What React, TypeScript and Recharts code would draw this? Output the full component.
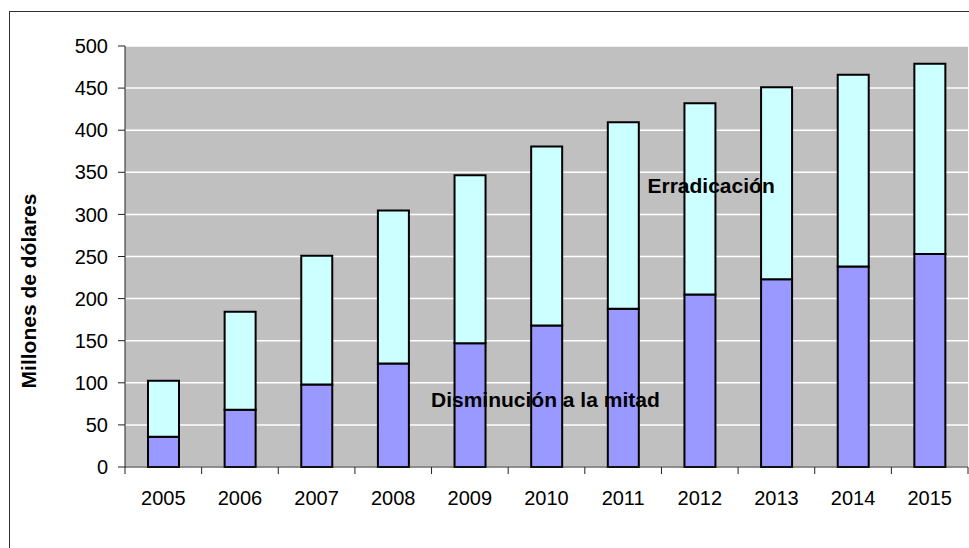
import React from 'react';
import { BarChart, Bar, XAxis, YAxis, CartesianGrid } from 'recharts';

const years = ['2005', '2006', '2007', '2008', '2009', '2010', '2011', '2012', '2013', '2014', '2015'];
const halfValues = [36, 68, 98, 123, 147, 168, 188, 205, 223, 238, 253];
const eradValues = [66.5, 116.5, 153, 181.5, 199.5, 212.5, 221.5, 227, 228, 228, 226];
const yTicks = [0, 50, 100, 150, 200, 250, 300, 350, 400, 450, 500];

const data = years.map((year, i) => ({ year, half: halfValues[i], erad: eradValues[i] }));

const FONT = '"Liberation Sans", Arial, sans-serif';
const TICK_SIZE = 7;
const X_TICK_MARGIN = 17;

const XTick = (props: any) => {
  const { x, y, payload, index, visibleTicksCount } = props;
  const half = payload && typeof payload.offset === 'number' && payload.offset > 0 ? payload.offset : 843 / 22;
  const axisY = y - TICK_SIZE - X_TICK_MARGIN;
  const last = index === visibleTicksCount - 1;
  return (
    <g>
      <line x1={x - half} y1={axisY} x2={x - half} y2={axisY + TICK_SIZE} stroke="#222" />
      {last && <line x1={x + half} y1={axisY} x2={x + half} y2={axisY + TICK_SIZE} stroke="#222" />}
      <text x={x} y={y} dy="0.71em" textAnchor="middle" fill="#000" fontSize={20} fontFamily={FONT}>
        {payload.value}
      </text>
    </g>
  );
};

export default function App() {
  return (
    <div style={{ position: 'fixed', left: 0, top: 0, width: 969, height: 548, overflow: 'hidden', background: '#fff' }}>
      <div style={{ position: 'absolute', left: 9, top: 11, width: 1000, height: 600, border: '1px solid #333' }} />
      <div style={{ position: 'absolute', left: 0, top: 0 }}>
        <BarChart width={969} height={548} data={data} margin={{ top: 46, right: 1, bottom: 21, left: 0 }} barCategoryGap="30%">
          <CartesianGrid vertical={false} fill="#C0C0C0" stroke="#fff" strokeWidth={1.5} />
          <XAxis
            dataKey="year"
            height={60}
            tickSize={TICK_SIZE}
            tickMargin={X_TICK_MARGIN}
            tickLine={false}
            axisLine={{ stroke: '#222' }}
            tick={<XTick />}
            interval={0}
          />
          <XAxis xAxisId="top" dataKey="year" orientation="top" height={0} tick={false} tickLine={false} axisLine={{ stroke: '#808080', strokeWidth: 1.5 }} />
          <YAxis
            width={125}
            domain={[0, 500]}
            ticks={yTicks}
            interval={0}
            tickSize={TICK_SIZE}
            tickMargin={10}
            axisLine={{ stroke: '#222' }}
            tickLine={{ stroke: '#222' }}
            tick={{ fill: '#000', fontSize: 20, fontFamily: FONT }}
          />
          <YAxis yAxisId="right" orientation="right" width={0} domain={[0, 500]} tick={false} tickLine={false} axisLine={{ stroke: '#808080', strokeWidth: 1.5 }} />
          <Bar dataKey="half" name="Disminución a la mitad" stackId="a" fill="#9999FF" stroke="#000" strokeWidth={2} isAnimationActive={false} />
          <Bar dataKey="erad" name="Erradicación" stackId="a" fill="#CCFFFF" stroke="#000" strokeWidth={2} isAnimationActive={false} />
        </BarChart>
      </div>
      <svg width={969} height={548} style={{ position: 'absolute', left: 0, top: 0, pointerEvents: 'none' }}>
        <text x={257} y={-4} fontSize={18} fontFamily={FONT} fill="#000">(</text>
        <text x={726} y={-4} fontSize={18} fontFamily={FONT} fill="#000">)</text>
        <text transform="translate(35.5,291) rotate(-90)" textAnchor="middle" fontSize={21} fontWeight="bold" fontFamily={FONT} fill="#000">
          Millones de dólares
        </text>
        <text x={647.5} y={193} fontSize={21} fontWeight="bold" fontFamily={FONT} fill="#000">Erradicación</text>
        <text x={431} y={406.5} fontSize={21} fontWeight="bold" fontFamily={FONT} fill="#000">Disminución a la mitad</text>
      </svg>
    </div>
  );
}
